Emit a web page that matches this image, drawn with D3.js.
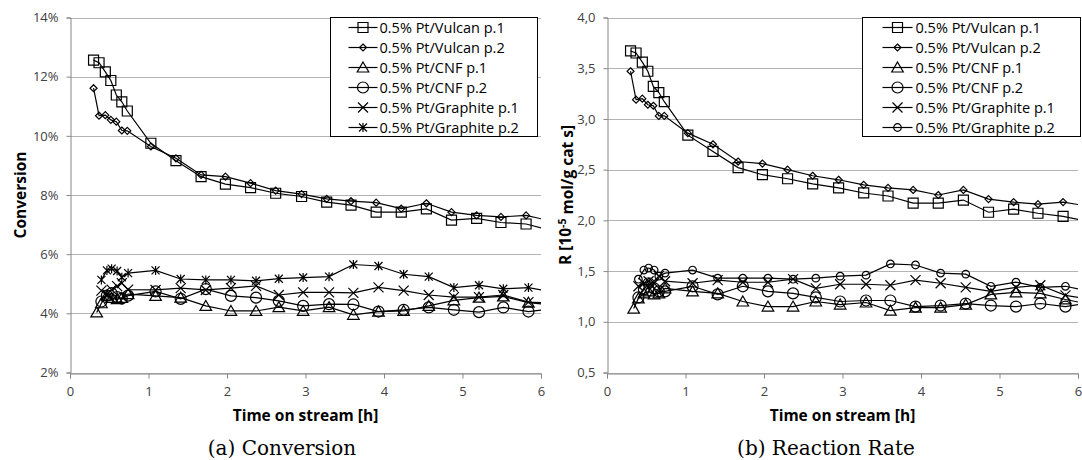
<!DOCTYPE html>
<html>
<head>
<meta charset="utf-8">
<script src="https://cdn.jsdelivr.net/npm/d3@7"></script>
<style>
  body { margin: 0; background: #fff; }
  svg { display: block; }
</style>
</head>
<body>
<svg id="chart" width="1082" height="460"></svg>
<script>
// sample names and time points (h)
const seriesNames = [
  '0.5% Pt/Vulcan p.1', '0.5% Pt/Vulcan p.2', '0.5% Pt/CNF p.1',
  '0.5% Pt/CNF p.2', '0.5% Pt/Graphite p.1', '0.5% Pt/Graphite p.2'
];
const timeVulcan = [0.30, 0.37, 0.45, 0.52, 0.59, 0.66, 0.73, 1.03, 1.35, 1.67, 1.98, 2.30,
  2.62, 2.95, 3.27, 3.58, 3.90, 4.22, 4.54, 4.86, 5.18, 5.49, 5.81, 6.13];
const timeOther = [0.34, 0.40, 0.47, 0.53, 0.60, 0.66, 0.74, 1.09, 1.41, 1.73, 2.05, 2.37,
  2.66, 2.97, 3.30, 3.61, 3.93, 4.25, 4.57, 4.89, 5.21, 5.52, 5.84, 6.16];

// (a) conversion, %
const convVulcan1 = [12.56, 12.47, 12.16, 11.87, 11.38, 11.15, 10.84, 9.75, 9.16, 8.62, 8.37, 8.25,
  8.06, 7.95, 7.76, 7.66, 7.42, 7.42, 7.53, 7.15, 7.21, 7.07, 7.02, 6.80];
const convVulcan2 = [11.61, 10.68, 10.70, 10.54, 10.48, 10.18, 10.17, 9.64, 9.24, 8.68, 8.62, 8.40,
  8.15, 8.03, 7.87, 7.79, 7.74, 7.54, 7.72, 7.42, 7.31, 7.26, 7.31, 7.12];
const convCnf1 = [4.03, 4.34, 4.60, 4.52, 4.48, 4.52, 4.65, 4.59, 4.53, 4.25, 4.08, 4.08,
  4.21, 4.08, 4.21, 3.95, 4.06, 4.08, 4.25, 4.44, 4.53, 4.57, 4.36, 4.28];
const convCnf2 = [null, 4.40, 4.60, 4.68, 4.55, 4.50, 4.60, 4.74, 4.49, 4.82, 4.59, 4.53,
  4.42, 4.25, 4.31, 4.30, 4.06, 4.12, 4.20, 4.12, 4.04, 4.20, 4.06, 4.15];
const convGraphite1 = [null, 4.77, 4.65, 4.80, 4.92, 5.02, 4.80, 4.79, 4.85, 4.79, 4.85, 4.93,
  4.62, 4.71, 4.71, 4.69, 4.88, 4.77, 4.62, 4.55, 4.55, 4.62, 4.38, 4.35];
const convGraphite2 = [null, 5.13, 5.45, 5.51, 5.43, 5.22, 5.36, 5.45, 5.16, 5.13, 5.13, 5.10,
  5.17, 5.21, 5.24, 5.65, 5.60, 5.32, 5.24, 4.87, 4.95, 4.83, 4.87, 4.72];

// (b) reaction rate, 10^-5 mol/g cat s
const rateVulcan1 = [3.67, 3.65, 3.56, 3.47, 3.32, 3.26, 3.17, 2.84, 2.68, 2.52, 2.45, 2.41,
  2.36, 2.32, 2.27, 2.24, 2.17, 2.17, 2.20, 2.08, 2.11, 2.07, 2.04, 1.99];
const rateVulcan2 = [3.47, 3.19, 3.20, 3.14, 3.13, 3.03, 3.03, 2.86, 2.75, 2.58, 2.56, 2.50,
  2.44, 2.40, 2.35, 2.32, 2.30, 2.25, 2.30, 2.21, 2.18, 2.16, 2.18, 2.14];
const rateCnf1 = [1.13, 1.23, 1.28, 1.30, 1.27, 1.28, 1.33, 1.30, 1.28, 1.20, 1.15, 1.15,
  1.20, 1.17, 1.19, 1.11, 1.14, 1.14, 1.17, 1.27, 1.29, 1.28, 1.22, 1.17];
const rateCnf2 = [null, 1.24, 1.32, 1.38, 1.33, 1.30, 1.30, 1.35, 1.27, 1.35, 1.30, 1.28,
  1.24, 1.20, 1.21, 1.21, 1.15, 1.16, 1.18, 1.16, 1.15, 1.18, 1.15, 1.19];
const rateGraphite1 = [null, 1.35, 1.38, 1.40, 1.38, 1.45, 1.40, 1.38, 1.41, 1.39, 1.39, 1.42,
  1.33, 1.37, 1.37, 1.36, 1.41, 1.38, 1.34, 1.30, 1.34, 1.36, 1.26, 1.22];
const rateGraphite2 = [null, 1.42, 1.51, 1.53, 1.51, 1.45, 1.48, 1.51, 1.43, 1.43, 1.43, 1.42,
  1.43, 1.45, 1.46, 1.57, 1.56, 1.48, 1.47, 1.35, 1.39, 1.34, 1.35, 1.30];

const xTicks = [0, 1, 2, 3, 4, 5, 6];
const convTicks = [2, 4, 6, 8, 10, 12, 14];
const rateTicks = [0.5, 1.0, 1.5, 2.0, 2.5, 3.0, 3.5, 4.0];

const svg = d3.select('#chart');
const font = "'Open Sans', 'Liberation Sans', sans-serif";

// open marker shapes, centred on 0,0
function markerPath(type) {
  switch (type) {
    case 'square': return 'M-5,-5H5V5H-5Z';
    case 'diamond': return 'M0,-3.5L3.5,0L0,3.5L-3.5,0Z';
    case 'triangle': return 'M0,-5.5L5.8,4.5H-5.8Z';
    case 'circle': return d3.arc()({innerRadius: 0, outerRadius: 5.5, startAngle: 0, endAngle: 2 * Math.PI});
    case 'smallcircle': return d3.arc()({innerRadius: 0, outerRadius: 3.8, startAngle: 0, endAngle: 2 * Math.PI});
    case 'x': return 'M-5,-5L5,5M-5,5L5,-5';
    case 'asterisk': return 'M-4,-4L4,4M-4,4L4,-4M0,-4.5V4.5';
  }
}

function drawPanel(p) {
  const g = svg.append('g');
  const x = d3.scaleLinear().domain([0, 6]).range([p.left, p.right]);
  const y = d3.scaleLinear().domain(p.yDomain).range([372.5, 17.5]);

  // gridlines
  g.append('g').selectAll('line').data(p.yTicks).join('line')
    .attr('x1', p.left).attr('x2', p.right)
    .attr('y1', d => Math.round(y(d)) + 0.5).attr('y2', d => Math.round(y(d)) + 0.5)
    .attr('stroke', '#b3b3b3').attr('stroke-width', 1);

  const yAxis = g.append('g').attr('transform', `translate(${Math.round(p.left) + 0.5},0)`)
    .call(d3.axisLeft(y).tickValues(p.yTicks).tickFormat(p.yFormat).tickSize(4).tickPadding(8));
  const xAxis = g.append('g').attr('transform', `translate(0,${Math.round(y(p.yDomain[0])) + 0.5})`)
    .call(d3.axisBottom(x).tickValues(xTicks).tickFormat(d3.format('d')).tickSize(5).tickPadding(8));
  [yAxis, xAxis].forEach(a => {
    a.select('.domain').attr('stroke', '#868686');
    a.selectAll('.tick line').attr('stroke', '#868686');
    a.selectAll('.tick text').attr('fill', '#404040').style('font-family', font).style('font-size', '13px');
  });

  const clipId = 'clip' + p.id;
  svg.append('clipPath').attr('id', clipId).append('rect')
    .attr('x', p.left).attr('y', 10).attr('width', p.right - p.left).attr('height', 363);

  const line = d3.line()
    .defined(d => d.v != null)
    .x(d => x(d.t)).y(d => y(d.v));

  p.series.forEach(s => {
    const pts = s.values.map((v, i) => ({t: s.times[i], v}));
    g.append('path').datum(pts)
      .attr('clip-path', `url(#${clipId})`)
      .attr('d', line).attr('fill', 'none')
      .attr('stroke', '#000').attr('stroke-width', 1.2);
    g.append('g').selectAll('path')
      .data(pts.filter(d => d.v != null && d.t <= 6)).join('path')
      .attr('transform', d => `translate(${x(d.t)},${y(d.v)})`)
      .attr('d', markerPath(s.marker))
      .attr('fill', 'none').attr('stroke', '#000').attr('stroke-width', 1.2);
  });

  // axis titles
  g.append('text')
    .attr('x', (p.left + p.right) / 2).attr('y', 421)
    .attr('text-anchor', 'middle')
    .style('font-family', font).style('font-size', '15.5px').style('font-weight', 'bold')
    .text('Time on stream [h]');
  const yt = g.append('text')
    .attr('transform', `translate(${p.yTitleX},195) rotate(-90)`)
    .attr('text-anchor', 'middle')
    .style('font-family', font).style('font-size', '15.5px').style('font-weight', 'bold');
  p.yTitle(yt);

  // legend
  const lg = g.append('g').attr('transform', `translate(${p.legend.x},17.5)`);
  lg.append('rect').attr('width', p.legend.w).attr('height', 119)
    .attr('fill', '#fff').attr('stroke', '#000').attr('stroke-width', 1);
  p.series.forEach((s, i) => {
    const row = lg.append('g').attr('transform', `translate(0,${10 + i * 20})`);
    row.append('line').attr('x1', p.legend.l0).attr('x2', p.legend.l1)
      .attr('stroke', '#000').attr('stroke-width', 1.2);
    row.append('path').attr('transform', `translate(${(p.legend.l0 + p.legend.l1) / 2},0)`)
      .attr('d', markerPath(s.marker))
      .attr('fill', 'none').attr('stroke', '#000').attr('stroke-width', 1.2);
    row.append('text').attr('x', p.legend.tx).attr('dy', '0.35em')
      .style('font-family', font).style('font-size', '14.5px')
      .text(s.name);
  });

  svg.append('text')
    .attr('x', p.captionX).attr('y', 455)
    .attr('text-anchor', 'middle')
    .style('font-family', "'DejaVu Serif', serif").style('font-size', '20px')
    .text(p.caption);
}

const markersA = ['square', 'diamond', 'triangle', 'circle', 'x', 'asterisk'];
const markersB = ['square', 'diamond', 'triangle', 'circle', 'x', 'smallcircle'];
const convValues = [convVulcan1, convVulcan2, convCnf1, convCnf2, convGraphite1, convGraphite2];
const rateValues = [rateVulcan1, rateVulcan2, rateCnf1, rateCnf2, rateGraphite1, rateGraphite2];
const timesFor = i => (i < 2 ? timeVulcan : timeOther);

drawPanel({
  id: 'a', left: 70, right: 541,
  yDomain: [2, 14], yTicks: convTicks, yFormat: d => d + '%',
  yTitleX: 26,
  yTitle: t => t.text('Conversion'),
  legend: {x: 330.5, w: 207, l0: 18, l1: 47, tx: 49},
  series: seriesNames.map((name, i) => ({name, marker: markersA[i], times: timesFor(i), values: convValues[i]})),
  caption: '(a) Conversion', captionX: 282
});

drawPanel({
  id: 'b', left: 607, right: 1078,
  yDomain: [0.5, 4.0], yTicks: rateTicks, yFormat: d => d3.format('.1f')(d).replace('.', ','),
  yTitleX: 571,
  yTitle: t => {
    t.append('tspan').text('R [10');
    t.append('tspan').attr('dy', '-0.45em').style('font-size', '10.5px').text('-5');
    t.append('tspan').attr('dy', '0.45em').text(' mol/g cat s]');
  },
  legend: {x: 862.5, w: 218, l0: 20, l1: 50, tx: 53},
  series: seriesNames.map((name, i) => ({name, marker: markersB[i], times: timesFor(i), values: rateValues[i]})),
  caption: '(b) Reaction Rate', captionX: 826
});
</script>
</body>
</html>
